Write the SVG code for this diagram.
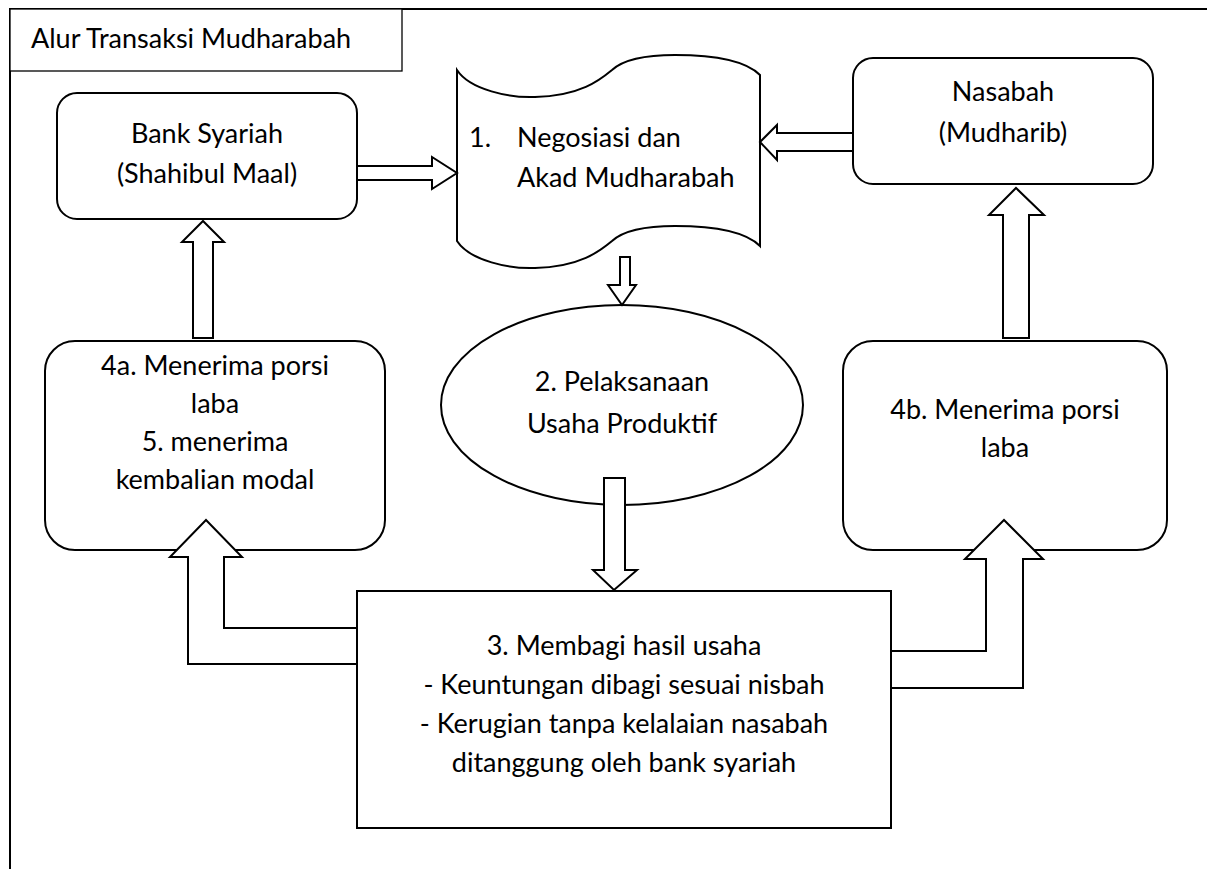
<svg xmlns="http://www.w3.org/2000/svg" width="1207" height="869" viewBox="0 0 1207 869">
<style>
text{font-family:Lato,"Liberation Sans",sans-serif;font-size:27px;fill:#000}
.c{text-anchor:middle}
.box{fill:#fff;stroke:#000;stroke-width:2}
.arr{fill:#fff;stroke:#000;stroke-width:2;stroke-linejoin:miter}
</style>
<rect width="1207" height="869" fill="#fff"/>
<g id="frame">
<path d="M10,869 V9 H1207" fill="none" stroke="#000" stroke-width="2"/>
</g>
<g id="title">
<rect x="10" y="9" width="392" height="62" fill="#fff" stroke="#000" stroke-width="1.3"/>
<text x="31" y="48">Alur Transaksi Mudharabah</text>
</g>
<g id="bank">
<rect class="box" x="57" y="93" width="300" height="126" rx="20"/>
<text class="c" x="207" y="143">Bank Syariah</text>
<text class="c" x="207" y="183">(Shahibul Maal)</text>
</g>
<g id="akad">
<path class="box" d="M457,70 C470,90 510,98 535,97 C580,96 600,80 612,70 C625,58 650,55 675,55 C710,55 745,60 760,75 V246 C745,231 710,226 675,226 C650,226 625,229 612,241 C600,251 580,267 535,268 C510,269 470,261 457,241 Z"/>
<text x="469" y="147">1.</text>
<text x="517" y="147">Negosiasi dan</text>
<text x="517" y="187">Akad Mudharabah</text>
</g>
<g id="nasabah">
<rect class="box" x="853" y="58" width="300" height="126" rx="20"/>
<text class="c" x="1003" y="101">Nasabah</text>
<text class="c" x="1003" y="142">(Mudharib)</text>
</g>
<g id="n4a">
<rect class="box" x="45" y="341" width="340" height="209" rx="30"/>
<text class="c" x="215" y="375">4a. Menerima porsi</text>
<text class="c" x="215" y="413">laba</text>
<text class="c" x="215" y="451">5. menerima</text>
<text class="c" x="215" y="489">kembalian modal</text>
</g>
<g id="pelaksanaan">
<ellipse class="box" cx="622" cy="405" rx="181" ry="100"/>
<text class="c" x="622" y="391">2. Pelaksanaan</text>
<text class="c" x="622" y="433">Usaha Produktif</text>
</g>
<g id="n4b">
<rect class="box" x="843" y="341" width="324" height="209" rx="30"/>
<text class="c" x="1005" y="419">4b. Menerima porsi</text>
<text class="c" x="1005" y="457">laba</text>
</g>
<g id="membagi">
<rect class="box" x="357" y="591" width="534" height="237"/>
<text class="c" x="624" y="655">3. Membagi hasil usaha</text>
<text class="c" x="624" y="694">- Keuntungan dibagi sesuai nisbah</text>
<text class="c" x="624" y="733">- Kerugian tanpa kelalaian nasabah</text>
<text class="c" x="624" y="772">ditanggung oleh bank syariah</text>
</g>
<g id="connectors">
<polygon class="arr" points="357,166 432,166 432,157 457,173 432,189 432,180 357,180"/>
<polygon class="arr" points="853,133 777,133 777,125 760,142 777,160 777,151 853,151"/>
<polygon class="arr" points="620,257 630,257 630,285 636,285 622,305 608,285 620,285"/>
<polygon class="arr" points="193,338 193,242 182,242 203,221 224,242 213,242 213,338"/>
<polygon class="arr" points="1003,338 1003,215 989,215 1016,188 1044,215 1029,215 1029,338"/>
<polygon class="arr" points="604,478 625,478 625,570 637,570 614,590 593,570 604,570"/>
<polygon class="arr" points="357,628 224,628 224,557 242,557 206,520 170,557 188,557 188,664 357,664"/>
<polygon class="arr" points="891,651 986,651 986,559 965,559 1004,520 1043,559 1023,559 1023,688 891,688"/>
</g>
</svg>
